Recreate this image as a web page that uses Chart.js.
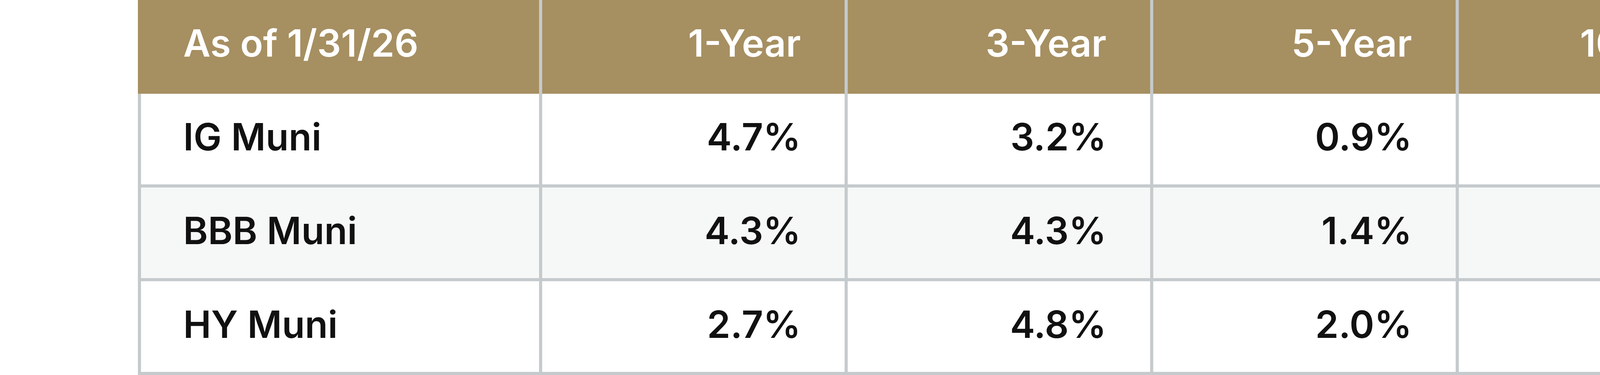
<!DOCTYPE html>
<html>
<head>
<meta charset="utf-8">
<script src="https://cdn.jsdelivr.net/npm/chart.js@4"></script>
<style>
  html, body { margin: 0; padding: 0; background: #ffffff; overflow: hidden; }
  #wrap { position: absolute; left: 0; top: 0; width: 5648px; height: 960px; }
</style>
</head>
<body>
<div id="wrap"><canvas id="tbl"></canvas></div>
<script>
// Данные таблицы
const cornerLabel = 'As of 1/31/26';
const periods = ['1-Year', '3-Year', '5-Year', '10-Year', '15-Year'];
const rowNames = ['IG Muni', 'BBB Muni', 'HY Muni'];
const igMuni = [4.7, 3.2, 0.9, 2.3, 3.5];
const bbbMuni = [4.3, 4.3, 1.4, 3.3, 4.5];
const hyMuni = [2.7, 4.8, 2.0, 4.4, 5.4];
const seriesValues = [igMuni, bbbMuni, hyMuni];

// Ширина колонок в относительных единицах (первая шире)
const colWeights = [1.318, 1, 1, 1, 1, 1];
const colEdges = [0];
colWeights.forEach(w => colEdges.push(colEdges[colEdges.length - 1] + w));

const headerBg = '#a68f61';
const zebraBg = '#f6f8f7';
const gridColor = '#c5cacd';
const font = '600 96px Inter, "Noto Sans", sans-serif';
const pad = 116;

const tablePlugin = {
    id: 'tablePlugin',
    afterDraw(chart) {
        const ctx = chart.ctx;
        const x = chart.scales.x;
        const y = chart.scales.y;
        const band = chart.chartArea.height / (rowNames.length + 1);
        const rowTop = i => y.getPixelForValue(i) - band / 2;
        const colL = c => x.getPixelForValue(colEdges[c]);
        const colR = c => x.getPixelForValue(colEdges[c + 1]);
        ctx.save();

        // Фон
        ctx.fillStyle = headerBg;
        ctx.fillRect(colL(0), rowTop(0), colR(5) - colL(0), band);
        for (let r = 1; r <= rowNames.length; r++) {
            ctx.fillStyle = r % 2 === 0 ? zebraBg : '#ffffff';
            ctx.fillRect(colL(0), rowTop(r), colR(5) - colL(0), band);
        }

        // Линии сетки
        ctx.fillStyle = gridColor;
        for (let c = 1; c < 6; c++) {
            ctx.fillRect(colL(c) - 4, rowTop(0), 8, chart.chartArea.height);
        }
        ctx.fillRect(colL(0), rowTop(1), 8, chart.chartArea.height - band);
        ctx.fillRect(colR(5) - 4, rowTop(1), 4, chart.chartArea.height - band);
        for (let r = 2; r <= rowNames.length + 1; r++) {
            ctx.fillRect(colL(0), rowTop(r) - 8, colR(5) - colL(0), 8);
        }

        // Текст
        ctx.font = font;
        ctx.textBaseline = 'middle';
        const cy = r => rowTop(r) + band / 2 - 4;
        ctx.fillStyle = '#ffffff';
        ctx.textAlign = 'left';
        ctx.fillText(cornerLabel, colL(0) + pad, cy(0));
        ctx.textAlign = 'right';
        periods.forEach((p, c) => ctx.fillText(p, colR(c + 1) - pad, cy(0)));

        ctx.fillStyle = '#111111';
        rowNames.forEach((name, i) => {
            const r = i + 1;
            ctx.textAlign = 'left';
            ctx.fillText(name, colL(0) + pad, cy(r));
            ctx.textAlign = 'right';
            seriesValues[i].forEach((v, c) => {
                ctx.fillText(v.toFixed(1) + '%', colR(c + 1) - pad, cy(r));
            });
        });
        ctx.restore();
    }
};

new Chart(document.getElementById('tbl'), {
    type: 'bar',
    data: { labels: [cornerLabel, ...rowNames], datasets: [] },
    options: {
        responsive: true,
        maintainAspectRatio: false,
        animation: false,
        layout: { padding: 0 },
        plugins: { legend: { display: false }, tooltip: { enabled: false } },
        scales: {
            x: { type: 'linear', min: 0, max: colEdges[colEdges.length - 1], display: false },
            y: { type: 'category', labels: [cornerLabel, ...rowNames], offset: true, display: false }
        }
    },
    plugins: [tablePlugin]
});
</script>
</body>
</html>
